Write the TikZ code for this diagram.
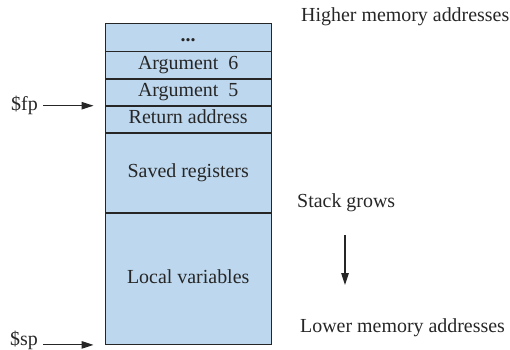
\documentclass[tikz,border=0pt]{standalone}
\usepackage{fontspec}
\setmainfont{Liberation Serif}
\usetikzlibrary{positioning,arrows.meta}
\definecolor{stackblue}{HTML}{BDD7EE}
\definecolor{linegray}{HTML}{262626}
\begin{document}
\begin{tikzpicture}[x=1bp,y=1bp,node distance=0pt,
                    every node/.style={font=\fontsize{20}{23}\selectfont,text=linegray},
                    frame/.style={draw=linegray,line width=0.9bp,fill=stackblue,inner sep=0pt,
                                  minimum width=166.5bp,text height=13.5bp,text depth=4.5bp},
                    pointer/.style={-{Triangle[length=12bp,width=7.5bp]},line width=1.1bp,draw=linegray}]

        \useasboundingbox (0,0) rectangle (510,-349);

        % Define stack frame
        \node[frame,minimum height=27.5bp,anchor=north west] (dots) at (104.5,-23) {\textbf{...}};
        \node[frame,minimum height=26.5bp] (arg6) [below=of dots] {Argument\ \ 6};
        \node[frame,minimum height=26bp] (arg5) [below=of arg6] {Argument\ \ 5};
        \node[frame,minimum height=26.5bp] (ret) [below=of arg5] {Return address};
        \node[frame,minimum height=79bp] (saved) [below=of ret] {Saved registers};
        \node[frame,minimum height=131bp] (locals) [below=of saved] {Local variables};

        % Define pointers
        \coordinate (fptip) at ([xshift=-11bp]ret.north west);
        \coordinate (sptip) at ([xshift=-11bp]locals.south west);
        \node[inner sep=1bp] (fp) [left=54.5bp of fptip] {\$fp};
        \node[inner sep=1bp,yshift=4.5bp] (sp) [left=54.5bp of sptip] {\$sp};

        % Define labels
        \node[inner sep=2bp,anchor=west] (high) at (299,-17) {Higher memory addresses};
        \node[inner sep=2bp,anchor=west] (grows) at (295,-203) {Stack grows};
        \node[inner sep=2bp,anchor=west] (low) at (298,-328) {Lower memory addresses};
        \coordinate (growtop) at (345,-235);
        \coordinate (growbot) at (345,-285);

        % Draw arrows
        \draw[pointer,shorten <=4bp] (fp.east) -- (fptip);
        \draw[pointer,shorten <=4bp] (sp.east |- sptip) -- (sptip);
        \draw[pointer] (growtop) -- (growbot);

        \end{tikzpicture}
\end{document}
